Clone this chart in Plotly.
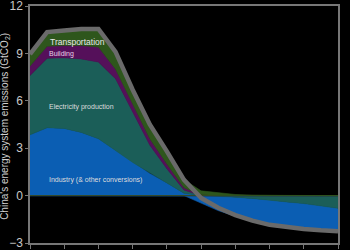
import plotly.graph_objects as go

years = [2010, 2015, 2020, 2025, 2030, 2035, 2040, 2045, 2050, 2055,
         2060, 2065, 2070, 2075, 2080, 2085, 2090, 2095, 2100]

industry = [3.85, 4.3, 4.25, 4.0, 3.6, 2.85, 2.1, 1.4, 0.8, 0.15,
            -0.45, -0.92, -1.2, -1.42, -1.57, -1.6, -1.62, -1.55, -1.45]
electricity = [3.75, 4.4, 4.47, 4.65, 4.85, 4.55, 3.2, 1.8, 0.9, 0.2,
               0.0, -0.03, -0.1, -0.18, -0.28, -0.4, -0.5, -0.65, -0.8]
building = [0.6, 0.75, 0.78, 0.85, 0.95, 0.6, 0.5, 0.4, 0.3, 0.15,
            0.05, 0.03, 0.01, 0, 0, 0, 0, 0, 0]
transport = [0.75, 0.9, 0.95, 1.05, 1.15, 1.1, 0.9, 0.9, 0.8, 0.5,
             0.25, 0.15, 0.06, 0.02, 0, 0, 0, 0, 0]

sectors = ["Industry (& other conversions)", "Electricity production", "Building", "Transportation"]
colors = ["#0b5eb3", "#1b5e58", "#55105a", "#2e561c"]
series = [industry, electricity, building, transport]

y_ticks = [-3, 0, 3, 6, 9, 12]

n = len(years)
fig = go.Figure()

# positive parts stacked upward in series order
pos_base = [0.0] * n
pos_bands = []
for s in series:
    lo = pos_base[:]
    hi = [lo[i] + max(s[i], 0) for i in range(n)]
    pos_bands.append((lo, hi))
    pos_base = hi
# negative parts stacked downward in reverse order
neg_base = [0.0] * n
neg_bands = [None] * len(series)
for k in range(len(series) - 1, -1, -1):
    s = series[k]
    hi = neg_base[:]
    lo = [hi[i] + min(s[i], 0) for i in range(n)]
    neg_bands[k] = (lo, hi)
    neg_base = lo

for k in range(len(series)):
    for lo, hi in (pos_bands[k], neg_bands[k]):
        fig.add_trace(go.Scatter(
            x=years + years[::-1], y=hi + lo[::-1], fill="toself",
            fillcolor=colors[k], line=dict(width=0.6, color=colors[k]),
            mode="lines", hoverinfo="skip", showlegend=False))

net = [sum(s[i] for s in series) for i in range(n)]
fig.add_trace(go.Scatter(x=years, y=net, mode="lines",
                         line=dict(color="#6a6a6a", width=4.5),
                         showlegend=False, hoverinfo="skip"))

labels = [
    ("Transportation", 2015.3, 9.7, 8.5, "#e8e8e8"),
    ("Building", 2015.0, 8.95, 7, "#e6d0e6"),
    ("Electricity production", 2015.0, 5.6, 7, "#dddddd"),
    ("Industry (& other conversions)", 2015.0, 1.0, 7, "#dddddd"),
]
for t, x, y, sz, c in labels:
    fig.add_annotation(x=x, y=y, text=t, showarrow=False, xanchor="left",
                       yanchor="middle", font=dict(size=sz, color=c))

fig.add_annotation(xref="paper", yref="paper", x=0, y=0.49, xshift=-25,
                   text="China's energy system emissions (GtCO<sub>2</sub>)",
                   textangle=-90, showarrow=False, xanchor="center", yanchor="middle",
                   font=dict(size=10, color="#d0d0d0"))

fig.update_layout(
    width=350, height=250,
    margin=dict(l=30, r=12, t=6, b=3),
    paper_bgcolor="black", plot_bgcolor="black",
    font=dict(family="Liberation Sans, Arial, sans-serif", color="#cccccc"),
    xaxis=dict(range=[2010, 2100], tick0=2010, dtick=10, showticklabels=False,
               ticks="outside", ticklen=4, tickcolor="#777", showgrid=False,
               zeroline=False, showline=True, linecolor="#777", linewidth=1.5,
               mirror=True),
    yaxis=dict(range=[-3, 12], tickvals=y_ticks, ticks="outside", ticklen=3,
               tickcolor="#777", showgrid=False, zeroline=False, showline=True,
               linecolor="#777", linewidth=1.5, mirror=True,
               ticklabeloverflow="allow",
               tickfont=dict(size=12, color="#c8c8c8"), automargin=False),
)

fig.write_html("out.html")
